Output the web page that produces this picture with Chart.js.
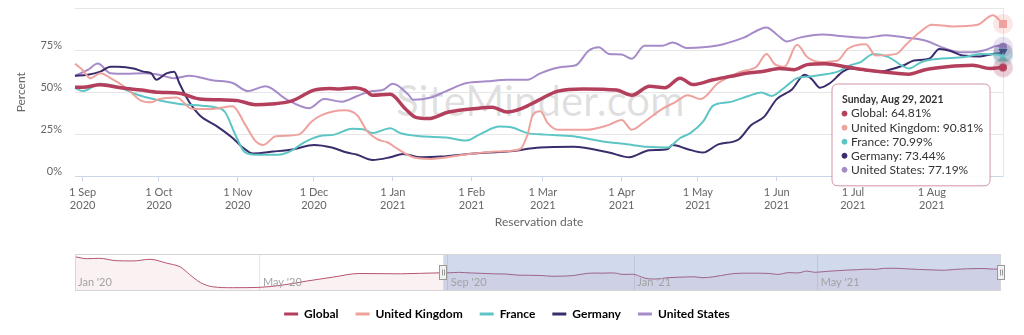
<!DOCTYPE html>
<html lang="en">
<head>
<meta charset="UTF-8" />
<title>Occupancy by country</title>
<script src="https://cdn.jsdelivr.net/npm/chart.js"></script>
<style>
  body { margin: 0; background: #fff; }
  #wrap { position: relative; width: 1024px; height: 335px; overflow: hidden; }
  #watermark { position: absolute; left: 396px; top: 75px; font: 42px Lato, sans-serif; color: rgba(0,0,0,0.13); white-space: nowrap; }
  #mainChart { position: absolute; left: 0; top: 0; }
  #navChart { position: absolute; left: 0; top: 237px; }
</style>
</head>
<body>
<div id="wrap">
  <div id="watermark">SiteMinder.com</div>
  <canvas id="mainChart" width="1024" height="240"></canvas>
  <canvas id="navChart" width="1024" height="98"></canvas>
</div>

<script>
// days counted from 29 Aug 2020
const seriesNames = ['Global', 'United Kingdom', 'France', 'Germany', 'United States'];
const seriesColors = ['#b33f5c', '#eea19d', '#5ec5c5', '#3b2c6b', '#a68bc9'];
const markerShapes = ['circle', 'square', 'triangle', 'triangle-down', 'circle'];

const globalDays = [0,3,10,18,26,33,41,49,57,64,71,77,85,94,100,104,110,114,117,124,130,134,139,147,159,164,170,176,182,190,200,213,219,226,232,238,243,251,258,264,271,277,283,288,295,303,311,323,328,334,343,353,360,365];
const globalPct = [53,53,54.5,52.7,51.3,50,49.4,46,45.5,45,42.6,43,44.7,51.3,52.3,52,52.7,51.3,48.2,48.8,40,35,34.3,38.2,40.5,41,38.2,40.5,45,50.7,52,51.3,48.2,53.6,52.7,58.4,54.6,57.5,59.5,61.3,62.5,64.2,63.5,66.5,67,65.2,63.3,61.3,60.8,63.3,65.2,66.1,64.2,64.81];

const ukDays = [0,3,6,10,14,20,26,30,33,40,46,54,62,67,71,74,79,88,93,97,106,111,115,119,123,127,133,140,153,166,175,178,180,183,186,190,201,210,215,219,224,231,236,241,246,253,262,268,272,275,279,284,288,293,300,304,311,315,323,327,332,337,345,355,361,365];
const ukPct = [67,63.3,58.4,61.3,58.4,52.7,45,44,45.9,46.9,40.1,40,41.7,30.5,20.8,18.5,23.7,24.7,32.4,36.3,39.2,36.3,26.6,21.8,20,16,11.2,10.2,12.7,14.6,16,24.8,36.3,38.6,31.4,27.6,27.6,30.5,33.4,27.6,32.4,40.1,44,48.2,45.9,55.5,62.3,65.2,72.9,67.1,65.2,78.3,71,68.1,69,76,78.7,71.9,72.9,78.7,85.5,90.3,89.3,90.3,96,90.81];

const franceDays = [0,3,10,18,24,32,41,50,55,59,63,67,72,80,85,90,96,102,109,114,117,124,128,136,146,154,159,167,172,178,185,196,207,217,225,233,238,242,247,251,257,265,270,274,279,284,289,294,300,305,309,314,320,325,328,333,340,350,356,363,365];
const francePct = [52.7,50.7,55.1,52.7,48.8,45.5,43,42,41,38.2,24.8,14,12.7,12.7,15,19.9,23.7,24.7,28.2,27.6,25.6,28.5,25.6,23.7,23,21.2,24.7,29.5,28.9,25.6,24.7,23.7,20.8,18.9,17.4,17,22.7,25.6,32.4,42,44,47.8,49.8,47.8,52.7,58.4,59.4,60.4,62.3,66.1,68,72.9,71,66.1,64.2,68.1,70,71,72.9,72.5,70.99];

const germanyDays = [0,5,10,14,17,23,27,30,32,36,39,41,45,49,56,62,66,70,78,86,94,101,107,111,117,124,129,136,144,157,170,183,196,210,218,226,233,235,241,247,253,261,266,271,276,282,287,290,293,297,302,305,310,316,320,326,330,336,340,344,349,356,361,365];
const germanyPct = [59.8,60.4,62.3,65.2,65.2,64.2,62.3,61.3,57.5,61.3,62.3,55.5,44,36.3,29.5,22.7,17,13.5,14.6,16,18.5,17,14,12.7,9.6,11.2,13.1,11.2,11.6,13.5,14.6,17,17.4,14,11.2,15.4,16,18.5,16,14,18.9,21.8,30.5,35.3,45.9,51.7,60.4,57.5,52.7,55.5,62.3,64.2,63.3,62.3,63.3,66.1,69,70,75.8,74.8,71.9,71.4,72.9,73.44];

const usDays = [0,5,9,14,20,27,33,39,45,54,62,68,75,83,92,98,105,111,117,121,125,131,133,140,146,154,162,170,178,183,192,197,202,206,210,215,219,224,231,235,241,247,255,263,272,276,280,285,294,302,311,319,327,335,341,348,353,358,363,365];
const usPct = [59.8,63.3,67.1,61.3,61,61.3,60.4,58.4,59.8,57.1,55.5,50.7,53.6,45.9,40.5,45.9,44.4,47.8,50.7,51.3,55.1,48.8,45.5,46.9,50.7,55.5,56.5,57.5,57.5,61.3,65.2,66.1,74.8,76.8,72.9,72.5,70,77.7,77.7,79.7,76.4,76.8,78.7,82.6,88.7,84.5,80.3,82.6,84.5,83.5,82.6,84.1,82.6,80.6,76.8,73.9,73.9,75.2,77.7,77.19];

const monthTickDays = [3,33,64,94,125,156,184,215,245,276,306,337];
const monthTickLabels = [['1 Sep','2020'],['1 Oct','2020'],['1 Nov','2020'],['1 Dec','2020'],['1 Jan','2021'],['1 Feb','2021'],['1 Mar','2021'],['1 Apr','2021'],['1 May','2021'],['1 Jun','2021'],['1 Jul','2021'],['1 Aug','2021']];

// navigator: Global from Jan 2020 (days before 29 Aug 2020 are negative)
const navEarlyDays = [-241,-233,-225,-214,-203,-192,-181,-172,-166,-159,-151,-138,-120,-105,-89,-72,-55,-28,-2];
const navEarlyPct = [101.5,95.7,96.9,89.8,89,94,82.2,70.5,48,23.8,10.9,8,9.1,15.9,28.4,40.1,51,50,53];
const navTickDays = [-241,-120,3,125,245];
const navTickLabels = ["Jan '20", "May '20", "Sep '20", "Jan '21", "May '21"];

const font = 'Lato, sans-serif';
const toPoints = (days, pct) => days.map((d, i) => ({ x: d, y: pct[i] }));
const seriesData = [
  toPoints(globalDays, globalPct),
  toPoints(ukDays, ukPct),
  toPoints(franceDays, francePct),
  toPoints(germanyDays, germanyPct),
  toPoints(usDays, usPct)
];
const lastDay = globalDays[globalDays.length - 1];

const weekdays = ['Sunday','Monday','Tuesday','Wednesday','Thursday','Friday','Saturday'];
const months = ['Jan','Feb','Mar','Apr','May','Jun','Jul','Aug','Sep','Oct','Nov','Dec'];
function formatDay(d) {
  const dt = new Date(Date.UTC(2020, 7, 29) + d * 86400000);
  return `${weekdays[dt.getUTCDay()]}, ${months[dt.getUTCMonth()]} ${dt.getUTCDate()}, ${dt.getUTCFullYear()}`;
}

// hover marker with halo, like the highlighted last point
function markerImage(color, shape) {
  const c = document.createElement('canvas');
  c.width = 22; c.height = 22;
  const g = c.getContext('2d');
  g.fillStyle = color;
  g.globalAlpha = 0.25;
  g.beginPath(); g.arc(11, 11, 10, 0, Math.PI * 2); g.fill();
  g.globalAlpha = 1;
  g.beginPath();
  if (shape === 'circle') g.arc(11, 11, 4, 0, Math.PI * 2);
  else if (shape === 'square') g.rect(7, 7, 8, 8);
  else if (shape === 'triangle') { g.moveTo(11, 6.5); g.lineTo(15.5, 15); g.lineTo(6.5, 15); g.closePath(); }
  else { g.moveTo(6.5, 7); g.lineTo(15.5, 7); g.lineTo(11, 15.5); g.closePath(); }
  g.fill();
  return c;
}

Chart.Tooltip.positioners.fixedBox = function (items) {
  if (!items.length) return false;
  const xs = this.chart.scales.x;
  return { x: xs.getPixelForValue(lastDay) - 165, y: 84 };
};

const noPad = s => { s.paddingTop = 0; s.paddingBottom = 0; s.paddingLeft = 0; s.paddingRight = 0; };

const mainChart = new Chart(document.getElementById('mainChart'), {
  type: 'line',
  data: {
    datasets: seriesNames.map((name, i) => {
      const last = seriesData[i].length - 1;
      const img = markerImage(seriesColors[i], markerShapes[i]);
      return {
        label: name,
        data: seriesData[i],
        borderColor: seriesColors[i],
        backgroundColor: seriesColors[i],
        borderWidth: i === 0 ? 3.5 : 2,
        cubicInterpolationMode: 'monotone',
        clip: false,
        pointStyle: img,
        pointRadius: ctx => ctx.dataIndex === last ? 5 : 0,
        pointHoverRadius: ctx => ctx.dataIndex === last ? 5 : 0,
        pointHitRadius: 0
      };
    })
  },
  options: {
    responsive: false,
    animation: false,
    events: [],
    layout: { padding: { top: 3, right: 21, left: 0, bottom: 0 } },
    scales: {
      x: {
        type: 'linear',
        min: 0,
        max: lastDay,
        afterBuildTicks: s => { s.ticks = monthTickDays.map(v => ({ value: v })); },
        afterFit: s => { s.height = 64; noPad(s); },
        ticks: {
          autoSkip: false, maxRotation: 0, padding: 5,
          color: '#666', font: { family: font, size: 11 },
          callback: (v, i) => monthTickLabels[i]
        },
        grid: { drawOnChartArea: false, tickLength: 5, color: '#ccd6eb' },
        border: { color: '#ccd6eb' },
        title: { display: true, text: 'Reservation date', color: '#666', font: { family: font, size: 12 }, padding: { top: 0, bottom: 11 } }
      },
      y: {
        min: 0, max: 100,
        afterFit: s => { s.width = 75; noPad(s); },
        ticks: {
          stepSize: 25, padding: 13, labelOffset: -5,
          color: '#666', font: { family: font, size: 11 },
          callback: v => v === 100 ? '' : v + '%'
        },
        grid: { color: '#e6e6e6', drawTicks: false },
        border: { display: false },
        title: { display: true, text: 'Percent', color: '#666', font: { family: font, size: 12 }, padding: { top: 14, bottom: 0 } }
      },
      y2: {
        position: 'right', min: 0, max: 100,
        afterFit: s => { s.width = 0; noPad(s); },
        ticks: { display: false },
        grid: { display: false },
        border: { color: '#e6e6e6' }
      }
    },
    plugins: {
      legend: { display: false },
      tooltip: {
        enabled: true,
        position: 'fixedBox',
        xAlign: 'left', yAlign: 'top',
        caretSize: 0, caretPadding: 0,
        backgroundColor: 'rgba(255,255,255,0.92)',
        borderColor: 'rgba(179,63,92,0.55)',
        borderWidth: 1,
        cornerRadius: 6,
        titleColor: '#333', bodyColor: '#333',
        titleFont: { family: font, size: 10.5, weight: 'bold', lineHeight: 1.2 },
        bodyFont: { family: font, size: 12, lineHeight: 1.17 },
        padding: { left: 10, right: 7, top: 9, bottom: 9 },
        titleMarginBottom: 1,
        bodySpacing: 0,
        usePointStyle: true, boxWidth: 5, boxHeight: 5, boxPadding: 2,
        callbacks: {
          title: items => formatDay(items[0].parsed.x),
          label: item => `${item.dataset.label}: ${item.parsed.y.toFixed(2)}%`,
          labelColor: item => ({ borderColor: seriesColors[item.datasetIndex], backgroundColor: seriesColors[item.datasetIndex] }),
          labelPointStyle: () => ({ pointStyle: 'circle', rotation: 0 })
        }
      }
    }
  }
});

const activeLast = seriesData.map((d, i) => ({ datasetIndex: i, index: d.length - 1 }));
mainChart.tooltip.setActiveElements(activeLast, { x: 1000, y: 60 });
mainChart.update();

// navigator strip
const navigatorPlugin = {
  id: 'navigator',
  afterDatasetsDraw(chart) {
    const { ctx, chartArea: a, scales: { x } } = chart;
    const x0 = x.getPixelForValue(globalDays[0]);
    const x1 = x.getPixelForValue(lastDay);
    const midY = (a.top + a.bottom) / 2;
    ctx.save();
    ctx.fillStyle = 'rgba(102,133,194,0.3)';
    ctx.fillRect(x0, a.top, x1 - x0, a.bottom - a.top);
    ctx.strokeStyle = '#d6d6d6';
    ctx.lineWidth = 1;
    ctx.strokeRect(a.left + 0.5, a.top + 0.5, a.right - a.left - 1, a.bottom - a.top - 1);
    ctx.fillStyle = '#a3a3a3';
    ctx.font = '11px ' + font;
    ctx.textBaseline = 'alphabetic';
    navTickDays.forEach((d, i) => {
      ctx.fillText(navTickLabels[i], x.getPixelForValue(d) + 3, a.bottom - 5);
    });
    [x0, x1].forEach(hx => {
      ctx.fillStyle = '#f2f2f2';
      ctx.strokeStyle = '#999';
      ctx.fillRect(Math.round(hx) - 3.5, midY - 7, 7, 14);
      ctx.strokeRect(Math.round(hx) - 3.5, midY - 7, 7, 14);
      ctx.beginPath();
      ctx.moveTo(Math.round(hx) - 0.5, midY - 3); ctx.lineTo(Math.round(hx) - 0.5, midY + 3);
      ctx.moveTo(Math.round(hx) + 1.5, midY - 3); ctx.lineTo(Math.round(hx) + 1.5, midY + 3);
      ctx.stroke();
    });
    ctx.restore();
  }
};

new Chart(document.getElementById('navChart'), {
  type: 'line',
  data: {
    datasets: [{
      label: 'Global',
      data: toPoints(navEarlyDays, navEarlyPct).concat(seriesData[0]),
      borderColor: '#b5546e',
      borderWidth: 1,
      backgroundColor: 'rgba(179,63,92,0.07)',
      fill: 'start',
      pointRadius: 0,
      cubicInterpolationMode: 'monotone'
    }]
  },
  options: {
    responsive: false,
    animation: false,
    events: [],
    // asymmetric side space comes from the hidden axes so the legend stays centred on the page
    layout: { padding: { left: 0, right: 10, top: 17, bottom: 7 } },
    scales: {
      x: {
        type: 'linear', min: navTickDays[0], max: lastDay,
        afterBuildTicks: s => { s.ticks = navTickDays.map(v => ({ value: v })); },
        afterFit: noPad,
        ticks: { display: false },
        grid: { color: '#e6e6e6', drawTicks: false },
        border: { display: false }
      },
      y: {
        position: 'left', min: -2, max: 110,
        afterFit: s => { s.width = 75; noPad(s); },
        ticks: { display: false },
        grid: { display: false },
        border: { display: false }
      },
      y2: {
        position: 'right', min: -2, max: 110,
        afterFit: s => { s.width = 13; noPad(s); },
        ticks: { display: false },
        grid: { display: false },
        border: { display: false }
      }
    },
    plugins: {
      tooltip: { enabled: false },
      legend: {
        position: 'bottom',
        labels: {
          boxWidth: 14, boxHeight: 3, padding: 17,
          color: '#333', font: { family: font, size: 12, weight: 'bold' },
          generateLabels: () => seriesNames.map((n, i) => ({
            text: n, fillStyle: seriesColors[i], strokeStyle: seriesColors[i], lineWidth: 0, hidden: false, datasetIndex: 0
          }))
        }
      }
    }
  },
  plugins: [navigatorPlugin]
});
</script>
</body>
</html>
